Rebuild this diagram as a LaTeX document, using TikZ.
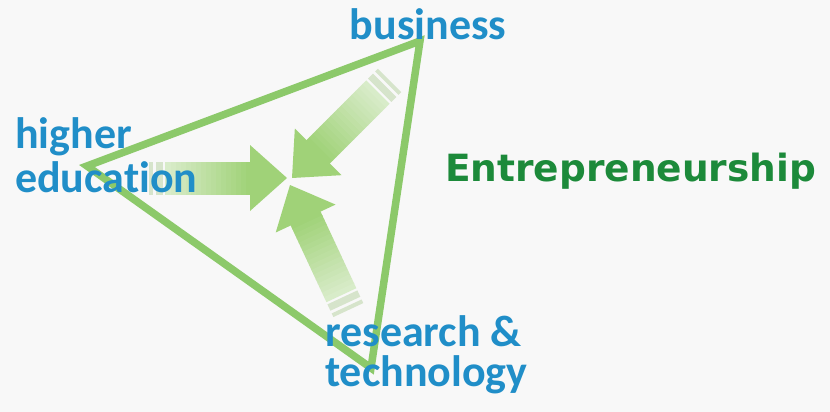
\documentclass[tikz,border=0pt]{standalone}
\usepackage{fontspec}
\setmainfont{Carlito}[Ligatures=NoCommon]
\newfontfamily\headfont{DejaVu Sans}

\definecolor{paper}{RGB}{248,248,248}
\definecolor{linegreen}{RGB}{140,201,106}
\definecolor{arrowgreen}{RGB}{160,210,120}
\definecolor{fadegreen}{RGB}{224,239,212}
\definecolor{labelblue}{RGB}{32,142,200}
\definecolor{titlegreen}{RGB}{28,138,58}

\tikzset{
  triline/.style={draw=linegreen, line width=7.5pt},
  cornertext/.style={text=labelblue, inner sep=0pt, align=left,
    font=\bfseries\fontsize{44}{44}\selectfont},
  titletext/.style={inner sep=0pt, anchor=base west,
    font=\headfont\bfseries\fontsize{37.5}{37.5}\selectfont}
}

% one faded block arrow, tip at #1, pointing at angle #2
\newcommand{\pusharrow}[2]{%
  \begin{scope}[shift={#1}, rotate=#2]
    \foreach \i in {0,...,16} {
      \pgfmathsetmacro{\p}{100-\i*5.5}
      \fill[arrowgreen!\p!fadegreen] (-36-\i*5,-16.5) rectangle (-41.6-\i*5,16.5);
    }
    \fill[arrowgreen] (0,0) -- (-37,33) -- (-37,-33) -- cycle;
    \fill[fadegreen!90!gray] (-124,-16.5) rectangle (-131,16.5);
    \fill[fadegreen!90!gray] (-134,-16.5) rectangle (-138,16.5);
  \end{scope}}

\begin{document}
\begin{tikzpicture}[x=1pt, y=-1pt]
 \useasboundingbox[fill=paper] (0,0) rectangle (830,412);
%
 \coordinate (he) at (87,166);
 \coordinate (bu) at (420,41);
 \coordinate (rt) at (371,368);
 \draw[triline] (he) -- (bu) -- (rt) -- cycle;
%
 \pusharrow{(287,178)}{0}
 \pusharrow{(292,178)}{225}
 \pusharrow{(290,185)}{115}
%
 \node[cornertext, anchor=base] (business) at (428,40) {business};
 \node[cornertext, anchor=base west] (higher) at (15,192) {higher\\education};
 \node[cornertext, anchor=base west, font=\bfseries\fontsize{44}{40}\selectfont]
   (research) at (325,386) {research \&\\technology};
%
 \node[titletext, text=titlegreen] (entre) at (445,181) {Entrepreneurship};
\end{tikzpicture}
\end{document}
